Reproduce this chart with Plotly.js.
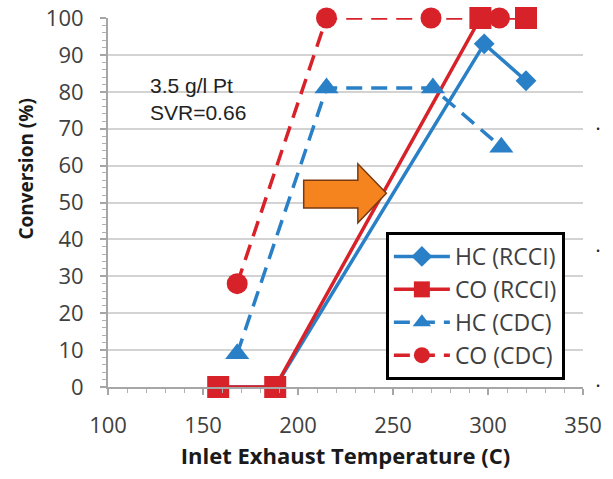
<!DOCTYPE html>
<html>
<head>
<meta charset="utf-8">
<script src="https://cdn.plot.ly/plotly-3.0.1.min.js"></script>
<style>html,body{margin:0;padding:0;background:#fff;}#chart{width:613px;height:479px;}</style>
</head>
<body>
<div id="chart"></div>
<script>
// Data
const hcRcciX = [158, 188, 298, 320];
const hcRcciY = [0, 0, 93, 83];
const coRcciX = [158, 188, 296, 320];
const coRcciY = [0, 0, 100, 100];
const hcCdcX = [168, 215, 271, 307];
const hcCdcY = [9, 81, 81, 65];
const coCdcX = [168, 215, 270, 306];
const coCdcY = [28, 100, 100, 100];
const seriesNames = ['HC (RCCI)', 'CO (RCCI)', 'HC (CDC)', 'CO (CDC)'];
const xTickVals = [100, 150, 200, 250, 300, 350];
const yTickVals = [0, 10, 20, 30, 40, 50, 60, 70, 80, 90, 100];

const BLUE = '#2A80C6';
const RED = '#D8222A';
const FONT = 'Open Sans, Liberation Sans, sans-serif';

const traces = [
  {x: hcRcciX, y: hcRcciY, name: seriesNames[0], legendgroup: 'a', mode: 'lines+markers',
   line: {color: BLUE, width: 3.5}, marker: {symbol: 'diamond', size: 16, color: BLUE}, cliponaxis: false},
  {x: coRcciX, y: coRcciY, name: seriesNames[1], legendgroup: 'b', mode: 'lines+markers',
   line: {color: RED, width: 3.5}, marker: {symbol: 'square', size: 22, color: RED}, cliponaxis: false},
  {x: hcCdcX, y: hcCdcY, name: seriesNames[2], legendgroup: 'c', mode: 'lines+markers',
   line: {color: BLUE, width: 3.5, dash: '16px,9px'}, marker: {symbol: 'triangle-up', size: 21, color: BLUE}, cliponaxis: false},
  {x: coCdcX, y: coCdcY, name: seriesNames[3], legendgroup: 'd', mode: 'lines+markers',
   line: {color: RED, width: 3.5, dash: '16px,9px'}, marker: {symbol: 'circle', size: 21, color: RED}, cliponaxis: false}
];

const layout = {
  width: 613, height: 479,
  margin: {l: 108, r: 30, t: 18, b: 92},
  paper_bgcolor: '#fff', plot_bgcolor: '#fff',
  showlegend: true,
  font: {family: FONT, color: '#404040'},
  xaxis: {
    range: [100, 350], tickvals: xTickVals, ticktext: xTickVals.map(String),
    showgrid: false, zeroline: false, showline: true, linecolor: '#a6a6a6', linewidth: 2,
    ticks: 'outside', ticklen: 6, tickcolor: '#a6a6a6', tickwidth: 2,
    minor: {dtick: 10, ticks: 'outside', ticklen: 4, tickcolor: '#b0b0b0', tickwidth: 1},
    tickfont: {size: 22, family: FONT, color: '#404040'}, ticklabelstandoff: 12,
    title: {text: '<b>Inlet Exhaust Temperature (C)</b>', font: {size: 22, family: FONT, color: '#1a1a1a'}, standoff: 10}
  },
  yaxis: {
    range: [0, 100], tickvals: yTickVals, ticktext: yTickVals.map(String),
    showgrid: true, gridcolor: '#d3d3d3', gridwidth: 2, zeroline: false,
    showline: true, linecolor: '#a6a6a6', linewidth: 2,
    ticks: 'outside', ticklen: 6, tickcolor: '#a6a6a6', tickwidth: 2,
    minor: {dtick: 2, ticks: 'outside', ticklen: 4, tickcolor: '#b0b0b0', tickwidth: 1, showgrid: false},
    tickfont: {size: 22, family: FONT, color: '#404040'}, ticklabelstandoff: 12
  },
  legend: {
    x: 0.585, y: 0.42, xanchor: 'left', yanchor: 'top',
    bgcolor: '#fff', bordercolor: '#000', borderwidth: 3,
    font: {size: 23, family: FONT, color: '#404040'},
    tracegroupgap: 0, itemwidth: 56
  },
  shapes: [
    {type: 'path', xref: 'x', yref: 'y',
     path: 'M 203,56 L 231.5,56 L 231.5,60.5 L 246.5,52.5 L 231.5,44.5 L 231.5,48.5 L 203,48.5 Z',
     fillcolor: '#F5841F', line: {color: '#7a3a10', width: 1.5}}
  ],
  annotations: [
    {text: 'Conversion (%)', xref: 'paper', yref: 'paper', x: -0.172, y: 0.59, xanchor: 'center', yanchor: 'middle',
     textangle: -90, showarrow: false, font: {size: 19, family: FONT, color: '#1a1a1a', weight: 'bold'}},
    {text: '3.5 g/l Pt<br>SVR=0.66', xref: 'x', yref: 'y', x: 121, y: 78, xanchor: 'left', yanchor: 'middle',
     align: 'left', showarrow: false, font: {size: 21, family: 'Liberation Sans, Arial, sans-serif', color: '#222'}},
    {text: '•', xref: 'paper', yref: 'y', x: 1.04, y: 70, showarrow: false, font: {size: 11, color: '#222'}},
    {text: '•', xref: 'paper', yref: 'y', x: 1.04, y: 37, showarrow: false, font: {size: 11, color: '#222'}},
    {text: '•', xref: 'paper', yref: 'y', x: 1.04, y: 0.5, showarrow: false, font: {size: 11, color: '#222'}}
  ]
};

Plotly.newPlot('chart', traces, layout, {displayModeBar: false, staticPlot: true});
</script>
</body>
</html>
